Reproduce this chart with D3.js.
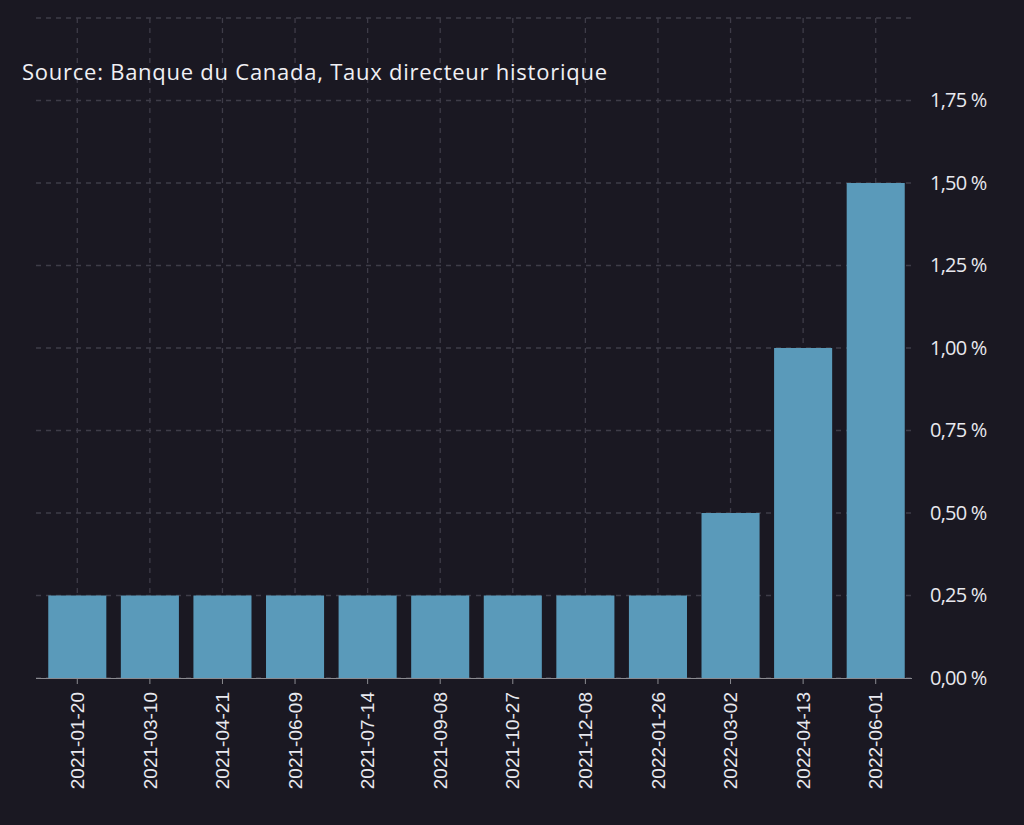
<!DOCTYPE html><html><head><meta charset="utf-8"><script src="https://cdn.jsdelivr.net/npm/d3@7"></script>
<style>body{margin:0;background:#1a1822}</style></head><body><svg id="c" width="1024" height="825"></svg>
<script>
const categories=["2021-01-20","2021-03-10","2021-04-21","2021-06-09","2021-07-14","2021-09-08","2021-10-27","2021-12-08","2022-01-26","2022-03-02","2022-04-13","2022-06-01"];
const values=[0.25,0.25,0.25,0.25,0.25,0.25,0.25,0.25,0.25,0.5,1.0,1.5];
const yTicks=[0,0.25,0.5,0.75,1.0,1.25,1.5,1.75];
const svg=d3.select("#c");
svg.append("rect").attr("width",1024).attr("height",825).attr("fill","#1a1822");
const x=d3.scaleBand().domain(categories).range([41,912]).paddingInner(0.2).paddingOuter(0.1);
const y=d3.scaleLinear().domain([0,2]).range([678,18]);
const g=svg.append("g");
g.selectAll(".hg").data(yTicks.concat([2])).enter().append("line")
 .attr("x1",36).attr("x2",912).attr("y1",d=>y(d)).attr("y2",d=>y(d))
 .attr("stroke","#3e3c48").attr("stroke-dasharray","5,5").attr("stroke-width",1.3);
g.selectAll(".vg").data(categories).enter().append("line")
 .attr("x1",d=>x(d)+x.bandwidth()/2).attr("x2",d=>x(d)+x.bandwidth()/2).attr("y1",18).attr("y2",678)
 .attr("stroke","#3e3c48").attr("stroke-dasharray","5,5").attr("stroke-width",1.3);
g.selectAll(".bar").data(values).enter().append("rect")
 .attr("x",(d,i)=>x(categories[i])).attr("width",x.bandwidth())
 .attr("y",d=>y(d)).attr("height",d=>y(0)-y(d)).attr("fill","#5a9aba");
const xa=svg.append("g").attr("transform","translate(0,678)").call(d3.axisBottom(x).tickSize(6).tickSizeOuter(0));
xa.select(".domain").attr("stroke","#8a8a90").attr("d","M36,0.5H912");
xa.selectAll(".tick line").attr("stroke","#8a8a90");
xa.selectAll("text").attr("fill","#e8e8ee").style("font-family","'Liberation Sans',Arial").style("font-size","19px")
 .attr("transform","rotate(-90)").attr("text-anchor","end").attr("x",-14).attr("y",0).attr("dy","0.35em");
const fmt=d=>d.toFixed(2).replace(".",",")+" %";
const ya=svg.append("g").attr("transform","translate(912,0)").call(d3.axisRight(y).tickValues(yTicks).tickFormat(fmt).tickSize(0).tickPadding(18));
ya.select(".domain").remove();
ya.selectAll("text").attr("fill","#e8e8ee").style("font-family","'Open Sans',sans-serif").style("font-size","20px").attr("letter-spacing","-0.8");
svg.append("text").attr("x",22).attr("y",80).text("Source: Banque du Canada, Taux directeur historique")
 .attr("fill","#f0f0f4").style("font-family","'Open Sans',sans-serif").style("font-size","22px").attr("textLength",585);
</script></body></html>
